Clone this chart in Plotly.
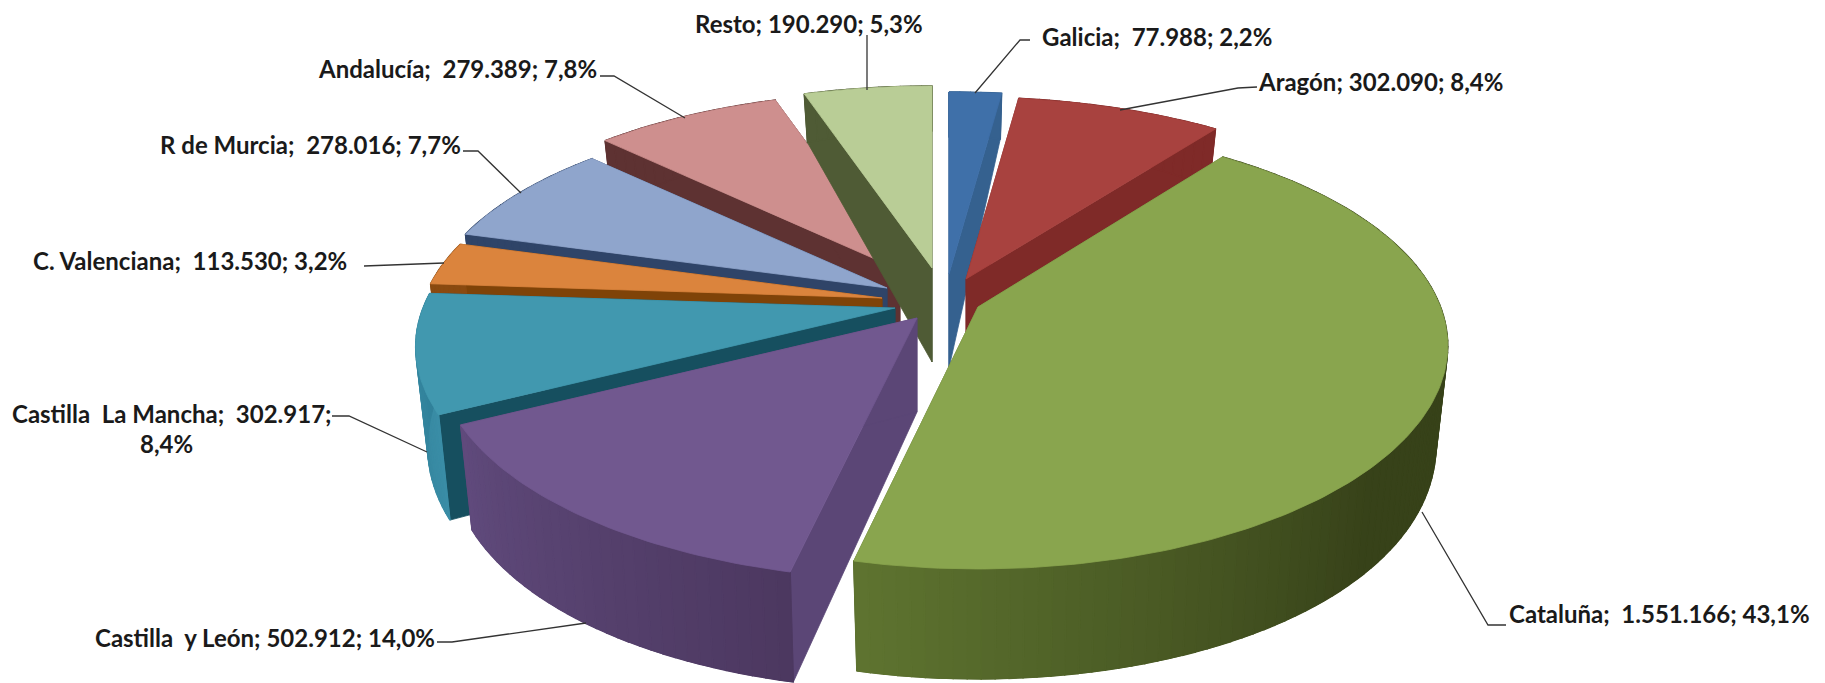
import numpy as np
import plotly.graph_objects as go

# ---------- data ----------
regions = ["Galicia", "Aragón", "Cataluña", "Castilla y León", "Castilla La Mancha",
           "C. Valenciana", "R de Murcia", "Andalucía", "Resto"]
values = [77988, 302090, 1551166, 502912, 302917, 113530, 278016, 279389, 190290]
label_texts = ["Galicia;  77.988; 2,2%", "Aragón; 302.090; 8,4%", "Cataluña;  1.551.166; 43,1%",
               "Castilla  y León; 502.912; 14,0%", "Castilla  La Mancha;  302.917;",
               "C. Valenciana;  113.530; 3,2%", "R de Murcia;  278.016; 7,7%",
               "Andalucía;  279.389; 7,8%", "Resto; 190.290; 5,3%"]

# ---------- style ----------
top_colors = ["#3F70A9", "#A8423F", "#89A54E", "#71588F", "#4198AF", "#DB843D", "#8FA5CC", "#CE8F8E", "#B9CD96"]
radial_colors = ["#35618F", "#7F2A28", "#5E7530", "#5B4676", "#164F5F", "#7F4308", "#2F4468", "#5E3232", "#4F5B35"]
wall_start = ["#35618F", "#7F2A28", "#374219", "#4C3860", "#3A8DA6", "#8A4A10", "#2F4468", "#5E3232", "#4F5B35"]
wall_end = ["#35618F", "#7F2A28", "#5E7430", "#604A7C", "#2F7F98", "#8A4A10", "#2F4468", "#5E3232", "#4F5B35"]
ramp_from = [0, 0, 0.6, 0, 0, 0, 0, 0, 0]
# exploded position of each slice's tip on the page, and its radius factors
tip_x = [949, 966, 978, 917, 895, 882, 887, 900, 932]
tip_y = [274, 279, 307, 318, 308, 298, 288, 270, 268]
radius_x = [1, 1, 0.98, 1, 1, 0.97, 0.97, 0.97, 1]
radius_y = [1, 1, 1, 1, 1, 0.97, 0.97, 0.97, 1]
draw_order = [0, 1, 7, 6, 5, 4, 8, 3, 2]

RX, RY, P, BX = 472, 222, 0.18, 0.975
D0, D1, D2 = 94, 32.5, -16.5


def top_pt(x, y, ax, ay):
    s = 1 + P * y
    return ax + RX * x * s, ay + RY * y * s


def bot_pt(x, y, ax, ay):
    s = 1 + P * y
    return ax + RX * x * s * BX, ay + RY * y * s + (D0 + D1 * y + D2 * y * y)


def poly(fig, xs, ys, color, width=0.8):
    fig.add_trace(go.Scatter(x=list(xs), y=list(ys), mode="lines", fill="toself", fillcolor=color,
                             line=dict(color=color, width=width), hoverinfo="skip", showlegend=False))


def mix(c1, c2, f):
    a = [int(c1[i:i + 2], 16) for i in (1, 3, 5)]
    b = [int(c2[i:i + 2], 16) for i in (1, 3, 5)]
    return "rgb(%d,%d,%d)" % tuple(round(p + (q - p) * f) for p, q in zip(a, b))


fig = go.Figure()
total = sum(values)
edges = np.concatenate([[0], np.cumsum(values)]) / total * 2 * np.pi

for i in draw_order:
    a0, a1 = edges[i], edges[i + 1]
    ax, ay = tip_x[i], tip_y[i]
    rx_f, ry_f = radius_x[i], radius_y[i]
    for a in (a0, a1):
        x, y = rx_f * np.sin(a), -ry_f * np.cos(a)
        tx, ty = top_pt(x, y, ax, ay)
        bx, by = bot_pt(x, y, ax, ay)
        ax0, ay0 = top_pt(0, 0, ax, ay)
        bx0, by0 = bot_pt(0, 0, ax, ay)
        poly(fig, [ax0, tx, bx, bx0, ax0], [ay0, ty, by, by0, ay0], radial_colors[i])
    # outer wall: a base piece, then thin shaded strips over it
    tt = np.linspace(a0, a1, max(4, int(np.degrees(a1 - a0))))
    xx, yy = rx_f * np.sin(tt), -ry_f * np.cos(tt)
    t_all = [top_pt(p, q, ax, ay) for p, q in zip(xx, yy)]
    b_all = [bot_pt(p, q, ax, ay) for p, q in zip(xx, yy)][::-1]
    pts = t_all + b_all + t_all[:1]
    poly(fig, [p[0] for p in pts], [p[1] for p in pts], mix(wall_start[i], wall_end[i], 0.3))
    n = max(2, int(np.degrees(a1 - a0) / 1.5))
    ts = np.linspace(a0, a1, n + 1)
    for k in range(n):
        tt = np.linspace(ts[k], ts[k + 1], 3)
        xx, yy = rx_f * np.sin(tt), -ry_f * np.cos(tt)
        t_xy = [top_pt(p, q, ax, ay) for p, q in zip(xx, yy)]
        b_xy = [bot_pt(p, q, ax, ay) for p, q in zip(xx, yy)][::-1]
        pts = t_xy + b_xy + t_xy[:1]
        f = max(0.0, ((k + 0.5) / n - ramp_from[i]) / (1 - ramp_from[i]))
        poly(fig, [p[0] for p in pts], [p[1] for p in pts], mix(wall_start[i], wall_end[i], f), width=1.4)
    tt = np.linspace(a0, a1, max(4, int(np.degrees(a1 - a0))))
    pts = ([top_pt(0, 0, ax, ay)] + [top_pt(rx_f * np.sin(t), -ry_f * np.cos(t), ax, ay) for t in tt]
           + [top_pt(0, 0, ax, ay)])
    poly(fig, [p[0] for p in pts], [p[1] for p in pts], top_colors[i])

# ---------- leader lines ----------
leader_x = [[1030, 1020, 975], [1257, 1238, 1120], [1506, 1488, 1422], [437, 452, 586], [332, 349, 427],
            [364, 444], [600, 614, 685], [463, 478, 521], [867, 867]]
leader_y = [[40, 40, 93], [87, 88, 110], [625, 625, 512], [642, 642, 623], [416, 416, 452],
            [266, 263], [76, 76, 118], [151, 151, 193], [35, 90]]
for lx, ly in zip(leader_x, leader_y):
    fig.add_trace(go.Scatter(x=lx, y=ly, mode="lines", line=dict(color="#333333", width=1.3),
                             hoverinfo="skip", showlegend=False))

# ---------- labels ----------
label_left = [1042, 1258, 1509, 95, 12, 33, 160, 318, 695]
label_mid = [36, 81, 613, 637, 413, 260, 144, 68, 23]
LABEL_FONT = dict(family="Lato", size=24, color="#1a1a1a", weight="bold")
for t, lx, ly in zip(label_texts, label_left, label_mid):
    fig.add_annotation(x=lx, y=ly, text=t, showarrow=False, xanchor="left", yanchor="middle",
                       font=LABEL_FONT, xshift=-2)
fig.add_annotation(x=166, y=443, text="8,4%", showarrow=False, xanchor="center", yanchor="middle",
                   font=LABEL_FONT)

fig.update_layout(width=1825, height=683, margin=dict(l=0, r=0, t=0, b=0),
                  paper_bgcolor="white", plot_bgcolor="white", showlegend=False,
                  xaxis=dict(range=[0, 1825], visible=False, fixedrange=True),
                  yaxis=dict(range=[683, 0], visible=False, fixedrange=True))
fig.write_html("out.html", config=dict(displayModeBar=False),
               post_script="document.body.style.margin='0';document.body.style.overflow='hidden';")
